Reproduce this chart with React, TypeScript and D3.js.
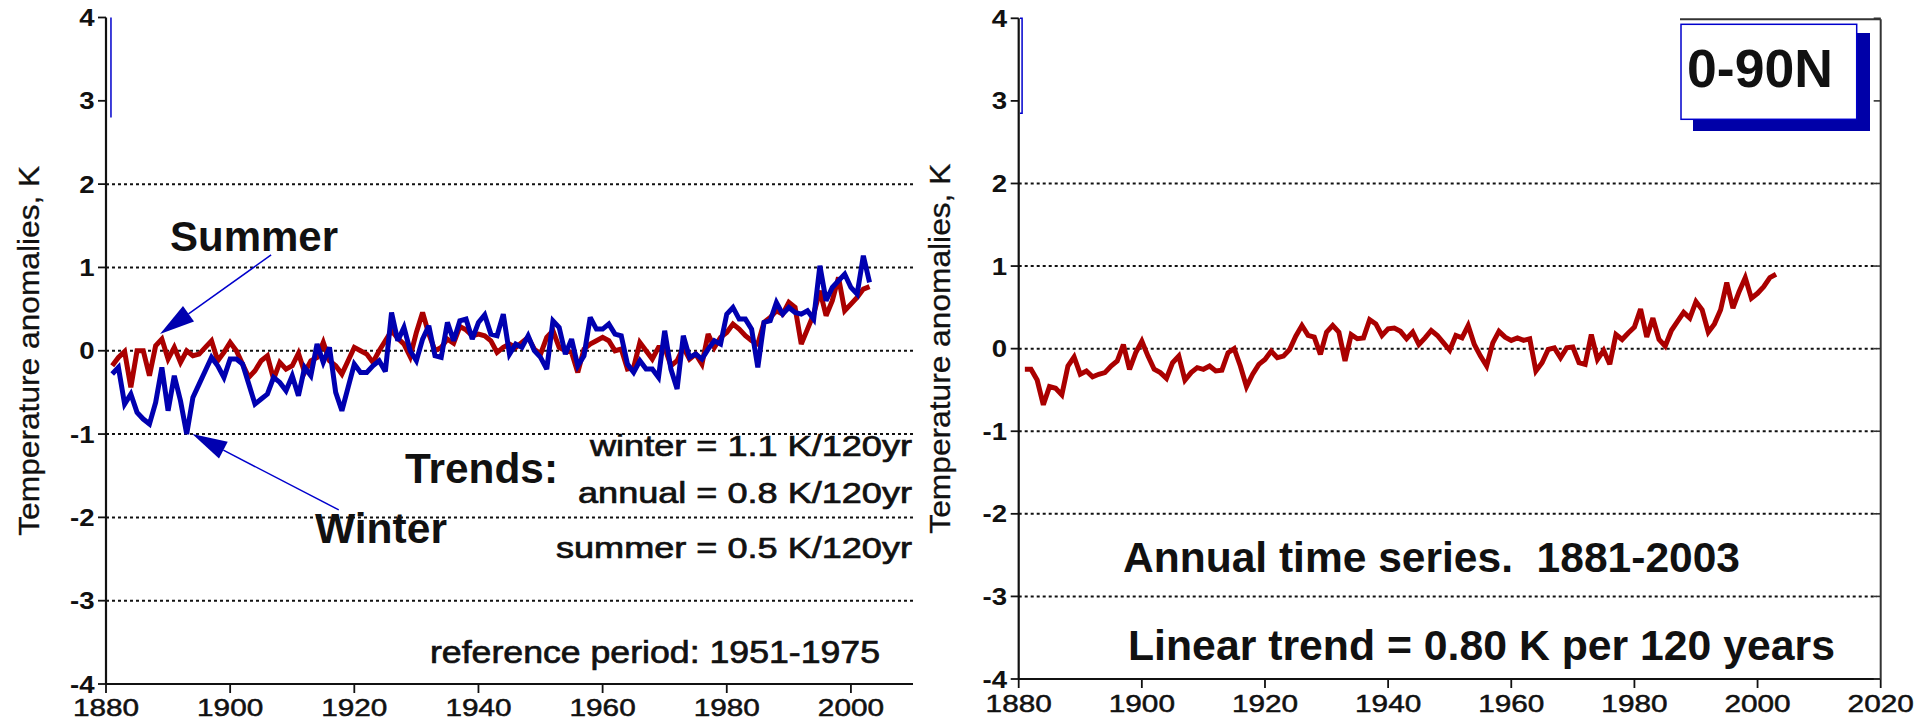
import React from 'react';
import * as d3 from 'd3';

// Northern hemisphere (0-90N) temperature anomalies, K, relative to 1951-1975.
const FIRST_YEAR = 1881;

// Summer means, 1881-2003
const summerAnom = [
  -0.18, -0.08, -0.01, -0.44, 0.0, 0.0, -0.3, 0.06, 0.14, -0.1,
  0.04, -0.14, 0.0, -0.06, -0.04, 0.04, 0.12, -0.12, -0.02, 0.1,
  0.0, -0.16, -0.32, -0.24, -0.12, -0.06, -0.34, -0.14, -0.22, -0.18,
  -0.03, -0.26, -0.12, -0.08, 0.1, -0.12, -0.18, -0.28, -0.12, 0.04,
  0.0, -0.04, -0.14, 0.0, 0.12, 0.24, 0.15, 0.08, -0.07, 0.22,
  0.46, 0.2, 0.0, 0.04, 0.14, 0.09, 0.29, 0.25, 0.18, 0.2,
  0.18, 0.12, -0.02, 0.04, 0.08, 0.04, 0.1, 0.16, 0.02, -0.04,
  0.16, 0.24, 0.04, 0.0, -0.02, -0.26, 0.02, 0.08, 0.12, 0.16,
  0.12, 0.0, 0.02, -0.22, -0.2, 0.1, 0.0, -0.1, 0.04, 0.04,
  -0.18, -0.12, 0.04, -0.1, -0.04, -0.16, 0.2, 0.04, 0.16, 0.22,
  0.32, 0.26, 0.18, 0.12, 0.08, 0.34, 0.4, 0.48, 0.44, 0.58,
  0.52, 0.08, 0.26, 0.44, 0.72, 0.42, 0.6, 0.88, 0.48, 0.56,
  0.64, 0.74, 0.77,
];

// Winter means, 1881-2003
const winterAnom = [
  -0.28, -0.2, -0.64, -0.52, -0.74, -0.82, -0.88, -0.62, -0.2, -0.72,
  -0.3, -0.6, -1.0, -0.56, -0.4, -0.24, -0.08, -0.18, -0.32, -0.1,
  -0.1, -0.16, -0.4, -0.64, -0.58, -0.52, -0.32, -0.38, -0.48, -0.3,
  -0.54, -0.2, -0.3, 0.08, -0.14, 0.04, -0.5, -0.72, -0.44, -0.16,
  -0.26, -0.26, -0.18, -0.12, -0.25, 0.46, 0.12, 0.28, 0.0, -0.12,
  0.14, 0.3, -0.06, -0.08, 0.34, 0.12, 0.36, 0.38, 0.14, 0.34,
  0.43, 0.2, 0.18, 0.44, -0.04, 0.08, 0.04, 0.18, 0.0, -0.08,
  -0.22, 0.36, 0.28, -0.04, 0.14, -0.18, -0.06, 0.4, 0.26, 0.26,
  0.32, 0.2, 0.18, -0.16, -0.26, -0.12, -0.22, -0.22, -0.32, 0.24,
  -0.22, -0.46, 0.18, -0.08, -0.04, -0.1, 0.02, 0.12, 0.08, 0.44,
  0.52, 0.38, 0.38, 0.26, -0.2, 0.34, 0.36, 0.58, 0.44, 0.52,
  0.46, 0.44, 0.48, 0.38, 1.02, 0.6, 0.76, 0.84, 0.92, 0.76,
  0.68, 1.14, 0.82,
];

// Annual means, 1881-2003
const annualAnom = [
  -0.25, -0.25, -0.38, -0.68, -0.46, -0.48, -0.56, -0.21, -0.1, -0.31,
  -0.27, -0.34, -0.31, -0.29, -0.21, -0.15, 0.05, -0.25, -0.05, 0.09,
  -0.09, -0.25, -0.29, -0.36, -0.17, -0.09, -0.38, -0.29, -0.23, -0.25,
  -0.21, -0.27, -0.26, -0.05, 0.0, -0.21, -0.46, -0.31, -0.19, -0.13,
  -0.03, -0.11, -0.09, -0.01, 0.15, 0.28, 0.16, 0.14, -0.07, 0.2,
  0.28, 0.2, -0.15, 0.17, 0.12, 0.13, 0.35, 0.3, 0.16, 0.24,
  0.25, 0.21, 0.12, 0.2, 0.05, 0.13, 0.22, 0.16, 0.07, -0.02,
  0.16, 0.13, 0.28, 0.05, -0.09, -0.21, 0.07, 0.21, 0.14, 0.1,
  0.13, 0.1, 0.12, -0.27, -0.17, -0.01, 0.01, -0.11, 0.01, 0.02,
  -0.17, -0.19, 0.17, -0.13, -0.02, -0.19, 0.17, 0.11, 0.19, 0.26,
  0.48, 0.14, 0.37, 0.11, 0.03, 0.22, 0.33, 0.44, 0.37, 0.57,
  0.47, 0.2, 0.3, 0.47, 0.8, 0.49, 0.69, 0.86, 0.61, 0.67,
  0.75, 0.86, 0.9,
];

const years = summerAnom.map((_, i) => FIRST_YEAR + i);

const yTickValues = [-4, -3, -2, -1, 0, 1, 2, 3, 4];
const gridValues = [-3, -2, -1, 0, 1, 2];
const leftYearTicks = [1880, 1900, 1920, 1940, 1960, 1980, 2000];
const rightYearTicks = [1880, 1900, 1920, 1940, 1960, 1980, 2000, 2020];

const trendLines = [
  'winter = 1.1 K/120yr',
  'annual = 0.8 K/120yr',
  'summer = 0.5 K/120yr',
];

const RED = '#aa0000';
const BLUE = '#0000b0';
const INK = '#111';
const FONT = '"Liberation Sans", Arial, Helvetica, sans-serif';

type Scale = d3.ScaleLinear<number, number>;

function Label(props: {
  x: number;
  y: number;
  size: number;
  weight?: string;
  anchor?: 'start' | 'middle' | 'end';
  len?: number;
  thicken?: number;
  children: string;
}) {
  const { x, y, size, weight = 'normal', anchor = 'start', len, thicken = 0, children } = props;
  return (
    <text
      x={x}
      y={y}
      fontSize={size}
      fontWeight={weight}
      textAnchor={anchor}
      fontFamily={FONT}
      fill={INK}
      stroke={thicken ? INK : undefined}
      strokeWidth={thicken || undefined}
      textLength={len}
      lengthAdjust={len ? 'spacingAndGlyphs' : undefined}
      style={{ whiteSpace: 'pre' }}
    >
      {children}
    </text>
  );
}

function Arrow(props: { from: [number, number]; to: [number, number] }) {
  const [x0, y0] = props.from;
  const [x1, y1] = props.to;
  const dx = x1 - x0;
  const dy = y1 - y0;
  const L = Math.hypot(dx, dy);
  const ux = dx / L;
  const uy = dy / L;
  const head = 35;
  const half = 9.5;
  const bx = x1 - ux * head;
  const by = y1 - uy * head;
  const pts = [
    [x1, y1],
    [bx - uy * half, by + ux * half],
    [bx + uy * half, by - ux * half],
  ];
  return (
    <g>
      <line x1={x0} y1={y0} x2={bx} y2={by} stroke="#0000cc" strokeWidth={1.5} />
      <polygon points={pts.map((p) => p.join(',')).join(' ')} fill={BLUE} />
    </g>
  );
}

function Frame(props: {
  x: Scale;
  y: Scale;
  yearTicks: number[];
  gridEnd: number;
  tickLabelBaseline: number;
  yLabelRight: number;
  titleX: number;
}) {
  const { x, y, yearTicks, gridEnd, tickLabelBaseline, yLabelRight, titleX } = props;
  const [x0, x1] = x.range();
  const [yBottom, yTop] = y.range();
  return (
    <g>
      {gridValues.map((v) => (
        <line
          key={'g' + v}
          x1={x0}
          x2={gridEnd}
          y1={y(v)}
          y2={y(v)}
          stroke="#111"
          strokeWidth={2}
          strokeDasharray="3 3"
        />
      ))}
      <line x1={x0} x2={x0} y1={yTop} y2={yBottom} stroke={INK} strokeWidth={2.2} />
      <line x1={x0} x2={x1} y1={yBottom} y2={yBottom} stroke={INK} strokeWidth={2.2} />
      {yTickValues.map((v) => (
        <g key={'y' + v}>
          <line x1={x0 - 8} x2={x0} y1={y(v)} y2={y(v)} stroke={INK} strokeWidth={1.8} />
          <text
            transform={`translate(${yLabelRight},${y(v) + 8.5}) scale(1.2,1)`}
            textAnchor="end"
            fontSize={23}
            fontWeight="bold"
            fontFamily={FONT}
            fill={INK}
          >
            {String(v)}
          </text>
        </g>
      ))}
      {yearTicks.map((t) => (
        <g key={'x' + t}>
          <line x1={x(t)} x2={x(t)} y1={yBottom} y2={yBottom + 9} stroke={INK} strokeWidth={1.8} />
          <text
            transform={`translate(${x(t)},${tickLabelBaseline}) scale(1.24,1)`}
            textAnchor="middle"
            fontSize={24}
            fontFamily={FONT}
            fill={INK}
            stroke={INK}
            strokeWidth={0.5}
          >
            {String(t)}
          </text>
        </g>
      ))}
      <text
        transform={`translate(${titleX},${y(0)}) rotate(-90)`}
        textAnchor="middle"
        fontSize={30}
        fontFamily={FONT}
        fill={INK}
        stroke={INK}
        strokeWidth={0.3}
        textLength={370}
        lengthAdjust="spacingAndGlyphs"
      >
        Temperature anomalies, K
      </text>
    </g>
  );
}

export default function App() {
  const xL = d3.scaleLinear().domain([1880, 2010]).range([106, 913]);
  const yL = d3.scaleLinear().domain([-4, 4]).range([684, 17.5]);
  const xR = d3.scaleLinear().domain([1880, 2020]).range([1018.7, 1880.7]);
  const yR = d3.scaleLinear().domain([-4, 4]).range([679, 18.3]);

  const pathFor = (xs: Scale, ys: Scale, vals: number[]) =>
    d3
      .line<number>()
      .x((_, i) => xs(years[i]))
      .y((d) => ys(d))(vals) || '';

  const seriesStyle = {
    fill: 'none',
    strokeWidth: 5,
    strokeLinejoin: 'miter' as const,
    strokeMiterlimit: 3,
  };

  return (
    <svg
      width={1915}
      height={721}
      viewBox="0 0 1915 721"
      style={{ position: 'absolute', left: 0, top: 0, display: 'block', background: '#fff' }}
    >
      <rect x={0} y={0} width={1915} height={721} fill="#fff" />

      {/* Left panel: summer and winter series */}
      <Frame
        x={xL}
        y={yL}
        yearTicks={leftYearTicks}
        gridEnd={913}
        tickLabelBaseline={716}
        yLabelRight={94.5}
        titleX={39}
      />
      <line
        x1={xL(1880.8)}
        x2={xL(1880.8)}
        y1={yL(4)}
        y2={yL(2.8)}
        stroke="#0000cc"
        strokeWidth={1.5}
      />
      <path d={pathFor(xL, yL, summerAnom)} stroke={RED} {...seriesStyle} />
      <path d={pathFor(xL, yL, winterAnom)} stroke={BLUE} {...seriesStyle} />

      <Arrow from={[xL(1906.6), yL(1.15)]} to={[xL(1888.7), yL(0.2)]} />
      <Arrow from={[xL(1917.5), yL(-1.91)]} to={[xL(1893.9), yL(-1.0)]} />

      <Label x={170} y={251} size={42} weight="bold" len={168}>
        Summer
      </Label>
      <Label x={315} y={543} size={43} weight="bold" len={132}>
        Winter
      </Label>
      <Label x={405} y={483} size={43} weight="bold" len={153}>
        Trends:
      </Label>
      <Label x={912} y={456} size={29} anchor="end" len={322} thicken={0.7}>
        {trendLines[0]}
      </Label>
      <Label x={912} y={503} size={29} anchor="end" len={334} thicken={0.7}>
        {trendLines[1]}
      </Label>
      <Label x={912} y={558} size={29} anchor="end" len={356} thicken={0.7}>
        {trendLines[2]}
      </Label>
      <Label x={430} y={663} size={31} len={450} thicken={0.7}>
        reference period: 1951-1975
      </Label>

      {/* Right panel: annual series */}
      <Frame
        x={xR}
        y={yR}
        yearTicks={rightYearTicks}
        gridEnd={1877}
        tickLabelBaseline={712}
        yLabelRight={1007}
        titleX={950}
      />
      <line x1={1680} x2={xR(2020)} y1={19.3} y2={19.3} stroke="#333" strokeWidth={2} />
      <line x1={xR(2020)} x2={xR(2020)} y1={19.3} y2={yR(-4)} stroke="#333" strokeWidth={2} />
      {yTickValues.map((v) => (
        <line
          key={'r' + v}
          x1={xR(2020) - 7}
          x2={xR(2020)}
          y1={yR(v)}
          y2={yR(v)}
          stroke="#333"
          strokeWidth={1.6}
        />
      ))}
      <path
        d={`M${xR(1880.2)},${yR(4)} H${xR(1880.55)} V${yR(2.85)} H${xR(1880.2)}`}
        fill="none"
        stroke="#0000cc"
        strokeWidth={1.5}
      />
      <path d={pathFor(xR, yR, annualAnom)} stroke={RED} {...seriesStyle} />

      <rect x={1693} y={33} width={177} height={98} fill="#0000a8" />
      <rect x={1681} y={24.3} width={175.7} height={95} fill="#fff" stroke="#0000cc" strokeWidth={1.5} />
      <Label x={1687} y={87} size={54} weight="bold" len={146}>
        0-90N
      </Label>

      <Label x={1123} y={572} size={43} weight="bold" len={617}>
        Annual time series.  1881-2003
      </Label>
      <Label x={1128} y={660} size={43} weight="bold" len={707}>
        Linear trend = 0.80 K per 120 years
      </Label>
    </svg>
  );
}
